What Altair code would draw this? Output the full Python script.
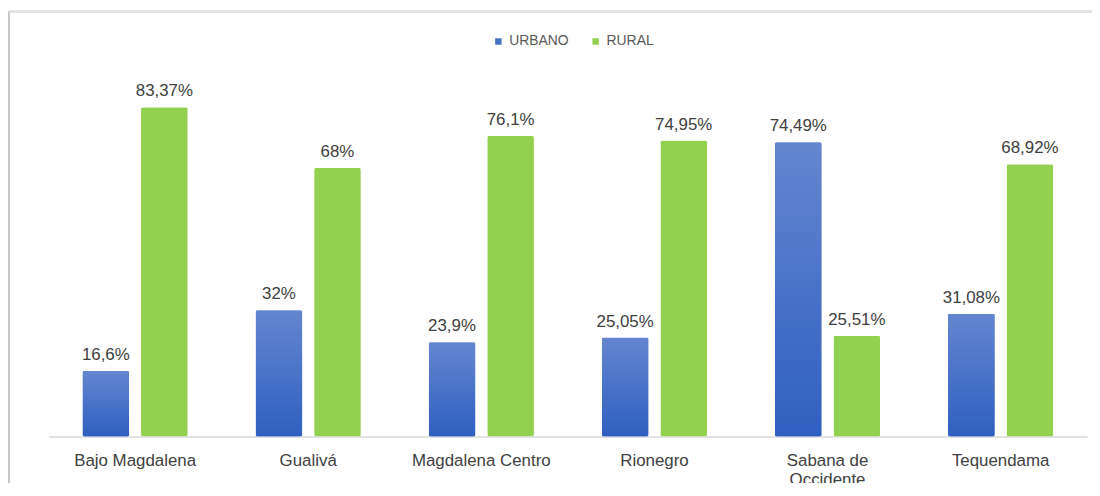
import altair as alt
import pandas as pd

categorias = ["Bajo Magdalena", "Gualivá", "Magdalena Centro", "Rionegro",
              "Sabana de Occidente", "Tequendama"]
urbano = [16.6, 32, 23.9, 25.05, 74.49, 31.08]
rural = [83.37, 68, 76.1, 74.95, 25.51, 68.92]
series = ["URBANO", "RURAL"]
colores = ["#4472c4", "#92d050"]


def etiqueta(v):
    return f"{v:g}".replace(".", ",") + "%"


rows = []
for c, u, r in zip(categorias, urbano, rural):
    rows.append({"cat": c, "serie": "URBANO", "valor": u, "label": etiqueta(u)})
    rows.append({"cat": c, "serie": "RURAL", "valor": r, "label": etiqueta(r)})
df = pd.DataFrame(rows)

x_enc = alt.X(
    "cat:N",
    sort=categorias,
    scale=alt.Scale(paddingInner=0.392, paddingOuter=0.195),
    axis=alt.Axis(
        title=None,
        labelAngle=0,
        ticks=False,
        domainColor="#d9d9d9",
        domainWidth=1.5,
        labelFont="Liberation Sans",
        labelFontSize=17,
        labelColor="#404040",
        labelPadding=16,
        labelLineHeight=19,
        labelExpr="datum.label == 'Sabana de Occidente' ? ['Sabana de', 'Occidente'] : datum.label",
    ),
)
xo_enc = alt.XOffset("serie:N", sort=series,
                     scale=alt.Scale(domain=series, paddingInner=0.203, paddingOuter=0))
y_enc = alt.Y("valor:Q", scale=alt.Scale(domain=[0, 100]), axis=None)

base = alt.Chart(df).encode(x=x_enc, xOffset=xo_enc, y=y_enc)

bars = base.mark_bar(cornerRadius=2).encode(
    color=alt.Color(
        "serie:N",
        sort=series,
        scale=alt.Scale(domain=series, range=colores),
        legend=alt.Legend(
            title=None,
            orient="none",
            legendX=446,
            legendY=-7,
            direction="horizontal",
            symbolType="square",
            symbolSize=42,
            symbolStrokeWidth=0,
            labelFont="Liberation Sans",
            labelFontSize=14,
            labelColor="#595959",
            labelOffset=4,
            columnPadding=20,
            padding=0,
        ),
    )
)

grad = alt.LinearGradient(
    gradient="linear",
    stops=[alt.GradientStop(color="#6486d0", offset=0),
           alt.GradientStop(color="#2f5fc0", offset=1)],
    x1=0, x2=0, y1=0, y2=1,
)
blue_bars = base.transform_filter(alt.datum.serie == "URBANO").mark_bar(
    cornerRadius=2, fill=grad
)

texts = base.mark_text(
    baseline="bottom", dy=-7, font="Liberation Sans", fontSize=17, color="#404040"
).encode(text="label:N")

frame_left = alt.Chart(df).mark_rule(color="#c8c8c8", strokeWidth=2).encode(
    x=alt.value(-40), y=alt.value(-30), y2=alt.value(460)
)
frame_top = alt.Chart(df).mark_rule(color="#e4e4e4", strokeWidth=2).encode(
    x=alt.value(-40), x2=alt.value(1060), y=alt.value(-30)
)

chart = alt.layer(frame_left, frame_top, bars, blue_bars, texts).properties(
    width=1046,
    height=398,
    autosize=alt.AutoSizeParams(type="none"),
    padding={"left": 41, "top": 32, "right": 5, "bottom": 45},
).configure_view(stroke=None)

chart.save("out.html", embed_options={"renderer": "svg", "actions": False})
